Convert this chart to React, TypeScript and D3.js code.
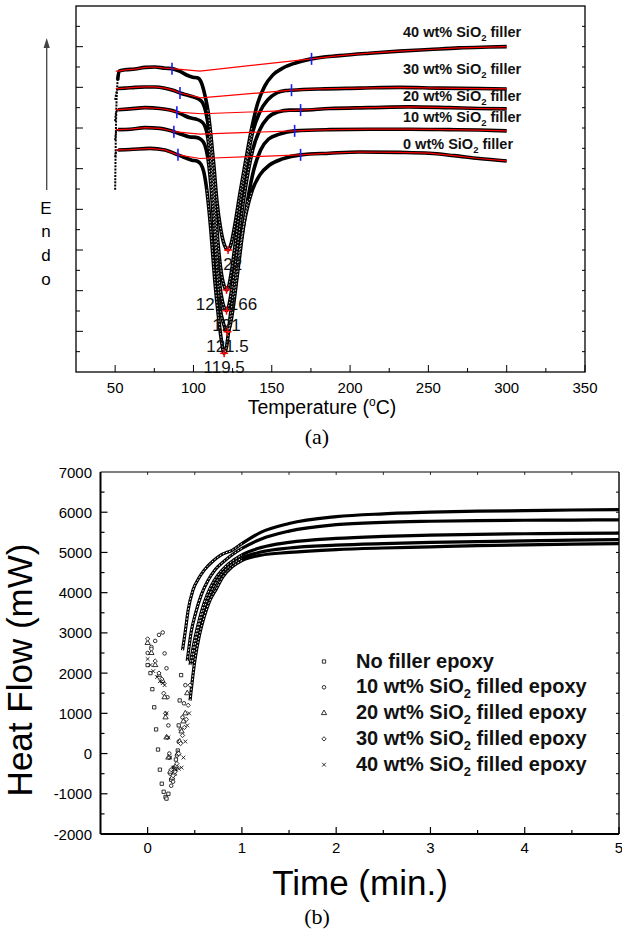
import React from "react";
import * as d3 from "d3";

const W = 622, H = 930;
const SANS = "'Liberation Sans', Arial, Helvetica, sans-serif";
const SERIF = "'Liberation Serif', 'Times New Roman', serif";

// ---------- (a) DSC scans: temperature (°C) vs heat flow (a.u., endo up)
const dscFiller = ["40", "30", "20", "10", "0"];

const dsc40 = [
  [50.0, 4.48], [50.6, 6.2], [51.6, 7.18], [52.5, 7.4], [56.3, 7.43], [62.7, 7.45], [69.1, 7.49],
  [75.4, 7.5], [81.8, 7.47], [86.3, 7.46], [91.4, 7.39], [96.4, 7.29], [99.6, 7.25], [102.8, 7.23],
  [105.4, 7.08], [107.3, 6.81], [109.2, 6.44], [111.1, 5.83], [113.0, 5.09], [114.9, 4.23],
  [117.5, 3.49], [120.0, 3.1], [122.1, 3.0], [123.8, 3.12], [126.4, 3.61], [129.5, 4.35],
  [133.4, 5.21], [137.2, 6.0], [141.0, 6.61], [145.5, 7.03], [150.6, 7.3], [156.9, 7.47],
  [165.2, 7.6], [175.4, 7.7], [193.2, 7.78], [212.3, 7.84], [231.4, 7.89], [250.5, 7.93],
  [269.6, 7.97], [288.7, 7.99], [300, 8.0],
];
const dsc30 = [
  [50.0, 6.69], [50.9, 6.88], [51.9, 6.97], [56.3, 6.98], [62.7, 7.0], [69.1, 7.01], [75.4, 7.01],
  [81.8, 6.98], [86.9, 6.93], [91.4, 6.86], [95.8, 6.81], [100.3, 6.76], [103.4, 6.71], [106.0, 6.61],
  [107.9, 6.39], [109.8, 5.95], [111.7, 5.21], [113.6, 4.23], [115.5, 3.25], [117.5, 2.51],
  [119.4, 2.14], [121.1, 2.02], [122.5, 2.11], [124.4, 2.51], [127.0, 3.25], [130.2, 4.23],
  [134.0, 5.16], [137.8, 5.9], [142.3, 6.39], [147.4, 6.69], [153.1, 6.86], [158.8, 6.92],
  [162.6, 6.93], [180.5, 6.96], [206.0, 6.98], [231.4, 7.0], [256.9, 6.98], [282.3, 6.97], [300, 6.96],
];
const dsc20 = [
  [50.0, 6.17], [50.6, 6.39], [51.9, 6.45], [59.5, 6.47], [69.1, 6.5], [78.6, 6.48], [85.0, 6.44],
  [89.4, 6.39], [93.9, 6.31], [97.7, 6.25], [101.5, 6.22], [104.7, 6.17], [107.3, 6.05], [109.2, 5.75],
  [111.1, 5.09], [113.0, 4.11], [114.9, 3.0], [116.8, 2.14], [118.7, 1.7], [121.1, 1.51],
  [122.5, 1.62], [124.4, 2.02], [127.0, 2.75], [130.2, 3.74], [134.0, 4.72], [137.8, 5.46],
  [142.3, 5.95], [147.4, 6.25], [153.7, 6.39], [161.4, 6.44], [168.4, 6.44], [186.8, 6.48],
  [212.3, 6.5], [237.8, 6.52], [263.2, 6.5], [282.3, 6.48], [300, 6.47],
];
const dsc10 = [
  [50.0, 5.7], [50.6, 5.9], [51.9, 5.96], [59.5, 5.97], [69.1, 6.01], [78.6, 5.99], [83.7, 5.95],
  [87.5, 5.91], [92.6, 5.84], [97.7, 5.78], [101.5, 5.77], [104.7, 5.72], [107.3, 5.58], [109.2, 5.26],
  [111.1, 4.6], [113.0, 3.61], [114.9, 2.51], [116.8, 1.65], [119.4, 1.16], [121.7, 0.99],
  [123.2, 1.11], [125.1, 1.52], [127.6, 2.26], [130.8, 3.25], [134.6, 4.23], [138.5, 4.97],
  [142.9, 5.46], [148.0, 5.73], [155.0, 5.85], [164.6, 5.93], [186.8, 5.96], [212.3, 5.97],
  [237.8, 5.97], [263.2, 5.96], [282.3, 5.95], [300, 5.93],
];
const dsc0 = [
  [50.0, 5.29], [50.6, 5.41], [51.9, 5.46], [59.5, 5.47], [72.3, 5.5], [81.8, 5.46], [90.1, 5.34],
  [95.2, 5.26], [99.0, 5.21], [102.2, 5.19], [104.7, 5.11], [106.6, 4.92], [108.5, 4.48],
  [111.1, 3.49], [113.6, 2.26], [116.2, 1.28], [118.1, 0.71], [119.6, 0.46], [121.3, 0.66],
  [123.2, 1.28], [125.7, 2.02], [128.9, 2.88], [132.7, 3.74], [137.2, 4.43], [142.3, 4.84],
  [148.6, 5.09], [156.9, 5.24], [168.4, 5.34], [186.8, 5.38], [206.0, 5.41], [231.4, 5.4],
  [250.5, 5.38], [266.4, 5.32], [282.3, 5.25], [300, 5.19],
];
const dscCurves = [dsc40, dsc30, dsc20, dsc10, dsc0];

// integration limits and baseline corner
const dscTickLeft = [86.3, 91.4, 89.4, 87.5, 90.1];
const dscTickRight = [175.4, 162.6, 168.4, 164.6, 168.4];
const dscBaseCorner = [[104.1, 7.4], [104.7, 6.74], [105.4, 6.35], [104.1, 5.85], [104.1, 5.25]];
const dscPeakT = [122.1, 121.1, 121.1, 121.7, 119.6];
const dscPeakLabel = ["122", "121.166", "121", "121.5", "119.5"];

// ---------- (b) heat flow vs time
const flowNames = ["No filler epoxy", "10 wt% SiO", "20 wt% SiO", "30 wt% SiO", "40 wt% SiO"];

const flowEarly0 = [
  [0.0, 2200], [0.03, 2000], [0.05, 1600], [0.07, 1150], [0.09, 600], [0.11, 100], [0.13, -400],
  [0.15, -750], [0.17, -950], [0.19, -1080], [0.2, -1120], [0.22, -1000], [0.25, -650],
  [0.28, -350], [0.3, -150], [0.32, 75], [0.33, 700], [0.34, 1320], [0.355, 1950],
];
const flowEarly1 = [
  [0.0, 2500], [0.04, 2650], [0.08, 2800], [0.12, 2950], [0.16, 3010], [0.18, 2490], [0.2, 2120],
  [0.21, 1400], [0.22, 700], [0.23, 0], [0.24, -500], [0.25, -800], [0.27, -700], [0.29, -400],
  [0.31, -50], [0.33, 300], [0.35, 600], [0.37, 900], [0.385, 1250], [0.4, 1700],
];
const flowEarly2 = [
  [0.0, 2750], [0.04, 2500], [0.08, 2200], [0.12, 1950], [0.16, 1800], [0.18, 1400], [0.19, 900],
  [0.2, 400], [0.22, -100], [0.24, -450], [0.26, -600], [0.28, -500], [0.3, -300], [0.32, 0],
  [0.34, 300], [0.36, 550], [0.38, 800], [0.4, 1000], [0.42, 1500],
];
const flowEarly3 = [
  [0.0, 2850], [0.04, 2600], [0.08, 2300], [0.12, 2000], [0.15, 1850], [0.17, 1500], [0.19, 1000],
  [0.21, 400], [0.23, -100], [0.25, -400], [0.27, -550], [0.29, -450], [0.31, -250], [0.33, 0],
  [0.35, 250], [0.37, 450], [0.39, 650], [0.41, 850], [0.43, 1200], [0.45, 1700],
];
const flowEarly4 = [
  [0.0, 2350], [0.03, 2200], [0.06, 2050], [0.1, 1900], [0.13, 1800], [0.16, 1750], [0.18, 1700],
  [0.2, 1000], [0.22, 400], [0.24, -100], [0.27, -350], [0.3, -400], [0.33, -380], [0.36, -350],
  [0.38, -100], [0.4, 300], [0.42, 700], [0.44, 1000],
];

const flowTrace0 = [
  [0.37, 2570], [0.4, 3050], [0.43, 3570], [0.48, 4060], [0.54, 4350], [0.6, 4560], [0.7, 4800],
  [0.78, 4940], [0.9, 5060], [1.0, 5220], [1.2, 5500], [1.5, 5720], [2.0, 5890], [2.5, 5960],
  [3.0, 6000], [3.5, 6025], [4.0, 6040], [4.5, 6055], [5.0, 6065],
];
const flowTrace1 = [
  [0.42, 2300], [0.46, 3000], [0.51, 3500], [0.57, 3950], [0.64, 4300], [0.72, 4580], [0.82, 4800],
  [0.9, 4950], [1.0, 5100], [1.2, 5330], [1.5, 5530], [2.0, 5690], [2.5, 5750], [3.0, 5775],
  [3.5, 5790], [4.0, 5800], [4.5, 5805], [5.0, 5810],
];
const flowTrace2 = [
  [0.45, 2200], [0.5, 2850], [0.55, 3350], [0.6, 3750], [0.67, 4150], [0.75, 4450], [0.84, 4680],
  [0.92, 4820], [1.0, 4940], [1.2, 5120], [1.5, 5250], [2.0, 5350], [2.5, 5400], [3.0, 5430],
  [3.5, 5450], [4.0, 5465], [4.5, 5475], [5.0, 5480],
];
const flowTrace3 = [
  [0.47, 2200], [0.52, 2900], [0.57, 3400], [0.63, 3800], [0.7, 4150], [0.78, 4450], [0.88, 4680],
  [1.0, 4860], [1.2, 5010], [1.5, 5110], [2.0, 5180], [2.5, 5220], [3.0, 5250], [3.5, 5270],
  [4.0, 5290], [4.5, 5305], [5.0, 5320],
];
const flowTrace4 = [
  [0.45, 1320], [0.5, 2300], [0.55, 2950], [0.6, 3400], [0.66, 3800], [0.73, 4100], [0.8, 4400],
  [0.9, 4650], [1.0, 4800], [1.2, 4930], [1.5, 5000], [2.0, 5070], [2.5, 5110], [3.0, 5140],
  [3.5, 5170], [4.0, 5190], [4.5, 5205], [5.0, 5220],
];
const flowEarly = [flowEarly0, flowEarly1, flowEarly2, flowEarly3, flowEarly4];
const flowTrace = [flowTrace0, flowTrace1, flowTrace2, flowTrace3, flowTrace4];

const symTypes = [
  d3.symbolSquare,
  d3.symbolCircle,
  d3.symbolTriangle,
  (d3 as any).symbolDiamond2 || d3.symbolDiamond,
  (d3 as any).symbolTimes || d3.symbolCross,
];
const symSizes = [11, 10, 12, 12, 11];

export default function App() {
  // panel (a)
  const ax = d3.scaleLinear().domain([25, 350]).range([76, 585]);
  const ay = d3.scaleLinear().domain([0, 9]).range([372, 6]);
  // panel (b)
  const bx = d3.scaleLinear().domain([-0.5, 5]).range([100.5, 619]);
  const by = d3.scaleLinear().domain([-2000, 7000]).range([834, 472]);

  const dscLine = d3.line<number[]>().x(d => ax(d[0])).y(d => ay(d[1])).curve(d3.curveMonotoneX);
  const fitLine = d3.line<number[]>().x(d => ax(d[0])).y(d => ay(d[1]));
  const flowLine = d3.line<number[]>().x(d => bx(d[0])).y(d => by(d[1])).curve(d3.curveMonotoneX);

  const valueAt = (c: number[][], t: number) => {
    const p = c.find(q => Math.abs(q[0] - t) < 0.01);
    return p ? p[1] : c[0][1];
  };

  const fitPoints = (i: number) => {
    const c = dscCurves[i];
    const left = c.filter(p => p[0] >= 51.8 && p[0] <= dscTickLeft[i]);
    const right = c.filter(p => p[0] >= dscTickRight[i]);
    return [[50.4, left[0][1]], ...left, dscBaseCorner[i], ...right];
  };

  const aTicks = d3.range(0.5, 9, 0.5);
  const aXTicks = d3.range(50, 351, 25);
  const bYTicks = d3.range(-1500, 7000, 500);
  const bXTicks = d3.range(0, 5.01, 0.5);

  const rightLabelY = [36.7, 74, 100.7, 121.7, 149];

  return (
    <svg width={W} height={H} style={{ position: "absolute", left: 0, top: 0, background: "#fff" }}
      fontFamily={SANS}>
      {/* ================= panel (a) ================= */}
      <g>
        {aTicks.map(v => (
          <g key={"ay" + v}>
            <line x1={76} x2={76 + (v % 1 === 0 ? 7 : 4)} y1={ay(v)} y2={ay(v)} stroke="#000" strokeWidth={1} />
            <line x1={585} x2={585 - 3} y1={ay(v)} y2={ay(v)} stroke="#000" strokeWidth={1} />
          </g>
        ))}
        {aXTicks.map(t => (
          <g key={"ax" + t}>
            <line x1={ax(t)} x2={ax(t)} y1={372} y2={372 - (t % 50 === 0 ? 7 : 4)} stroke="#000" strokeWidth={1} />
            {t % 50 === 0 && (
              <text x={ax(t)} y={393} fontSize={15} textAnchor="middle">{t}</text>
            )}
          </g>
        ))}
        <rect x={76} y={6} width={509} height={366} fill="none" stroke="#000" strokeWidth={1.3} />

        {/* black DSC traces: sparse start, dense body, open-marker texture in the dip */}
        {dscCurves.map((c, i) => (
          <g key={"dc" + i}>
            <path d={dscLine(c.slice(0, 3)) || ""} fill="none" stroke="#000" strokeWidth={2}
              strokeDasharray="2 1.2" />
            <path d={dscLine(c.slice(2)) || ""} fill="none" stroke="#000" strokeWidth={3.6}
              strokeLinejoin="round" />
          </g>
        ))}
        {dscCurves.map((c, i) => (
          <path key={"dh" + i} d={dscLine(c.filter(p => p[0] >= 108 && p[0] <= 138)) || ""}
            fill="none" stroke="#fff" strokeWidth={0.9} strokeDasharray="1.4 1.8" opacity={0.9} />
        ))}
        {/* red baseline / fit */}
        {dscCurves.map((c, i) => (
          <path key={"fit" + i} d={fitLine(fitPoints(i)) || ""} fill="none" stroke="#ff0000" strokeWidth={1.2} />
        ))}
        {/* blue integration limits */}
        {dscCurves.map((c, i) => (
          <g key={"bl" + i} stroke="#1a1aff" strokeWidth={1.6}>
            <line x1={ax(dscTickLeft[i])} x2={ax(dscTickLeft[i])}
              y1={ay(valueAt(c, dscTickLeft[i])) - 6} y2={ay(valueAt(c, dscTickLeft[i])) + 6} />
            <line x1={ax(dscTickRight[i])} x2={ax(dscTickRight[i])}
              y1={ay(valueAt(c, dscTickRight[i])) - 6} y2={ay(valueAt(c, dscTickRight[i])) + 6} />
          </g>
        ))}
        {/* peak markers and labels */}
        {dscCurves.map((c, i) => {
          const px = ax(dscPeakT[i]);
          const py = ay(valueAt(c, dscPeakT[i]));
          return (
            <g key={"pk" + i}>
              <line x1={px - 4} x2={px + 4} y1={py} y2={py} stroke="#ff0000" strokeWidth={1.5} />
              <line x1={px} x2={px} y1={py - 4} y2={py + 4} stroke="#ff0000" strokeWidth={1.5} />
              <text x={px} y={py + 20} fontSize={17} textAnchor="middle" fill="#111">{dscPeakLabel[i]}</text>
            </g>
          );
        })}
        {/* series labels */}
        {dscFiller.map((f, i) => (
          <text key={"lab" + f} x={403} y={rightLabelY[i]} fontSize={14.5} fontWeight="bold" fill="#111">
            {f} wt% SiO<tspan dy={4} fontSize={9.5}>2</tspan><tspan dy={-4}> filler</tspan>
          </text>
        ))}

        {/* endo arrow */}
        <line x1={46.7} x2={46.7} y1={190} y2={46} stroke="#444" strokeWidth={1.3} />
        <path d="M46.7,38 L43.6,48 L49.8,48 Z" fill="#444" />
        {["E", "n", "d", "o"].map((ch, i) => (
          <text key={"endo" + i} x={46} y={[214, 237, 261, 285][i]} fontSize={17} textAnchor="middle">{ch}</text>
        ))}

        <text x={322} y={414} fontSize={19.5} textAnchor="middle">
          Temperature (<tspan dy={-8} fontSize={12}>o</tspan><tspan dy={8}>C)</tspan>
        </text>
        <text x={317} y={444} fontSize={22} textAnchor="middle" fontFamily={SERIF}>(a)</text>
      </g>

      {/* ================= panel (b) ================= */}
      <g>
        {bYTicks.map(v => (
          <g key={"by" + v}>
            <line x1={100.5} x2={100.5 + (v % 1000 === 0 ? 7 : 4)} y1={by(v)} y2={by(v)} stroke="#000" strokeWidth={1.2} />
            <line x1={619} x2={619 - 3} y1={by(v)} y2={by(v)} stroke="#000" strokeWidth={1} />
          </g>
        ))}
        {d3.range(-2000, 7001, 1000).map(v => (
          <text key={"byl" + v} x={92} y={by(v) + 5.5} fontSize={15} textAnchor="end">{v}</text>
        ))}
        {bXTicks.map(t => (
          <g key={"bx" + t}>
            <line x1={bx(t)} x2={bx(t)} y1={834} y2={834 - (Math.abs(t % 1) < 1e-6 ? 7 : 4)} stroke="#000" strokeWidth={1.2} />
            {t < 5 && <line x1={bx(t)} x2={bx(t)} y1={472} y2={475} stroke="#000" strokeWidth={0.8} />}
            {Math.abs(t % 1) < 1e-6 && (
              <text x={bx(t)} y={853} fontSize={15} textAnchor="middle">{t}</text>
            )}
          </g>
        ))}
        <line x1={100.5} x2={619} y1={472} y2={472} stroke="#000" strokeWidth={1.2} />
        <line x1={619} x2={619} y1={472} y2={834} stroke="#000" strokeWidth={1.4} />
        <line x1={100.5} x2={100.5} y1={472} y2={834} stroke="#000" strokeWidth={2} />
        <line x1={100.5} x2={619} y1={834} y2={834} stroke="#000" strokeWidth={2} />

        {/* dense traces, with open-marker texture where the rise is steep */}
        {flowTrace.map((tr, i) => (
          <path key={"ft" + i} d={flowLine(tr) || ""} fill="none" stroke="#000" strokeWidth={3.2} />
        ))}
        {flowTrace.map((tr, i) => (
          <path key={"fh" + i} d={flowLine(tr.filter(p => p[0] <= 1.0)) || ""} fill="none"
            stroke="#fff" strokeWidth={1} strokeDasharray="1.6 1.8" />
        ))}
        {/* sparse open markers */}
        {flowEarly.map((pts, i) => {
          const sym = d3.symbol().type(symTypes[i]).size(symSizes[i]);
          return (
            <g key={"fm" + i}>
              {pts.map((p, j) => (
                <path key={j} d={sym() || ""} transform={`translate(${bx(p[0])},${by(p[1])})`}
                  fill="#fff" stroke="#000" strokeWidth={0.8} />
              ))}
            </g>
          );
        })}

        {/* legend */}
        {flowNames.map((n, i) => {
          const sym = d3.symbol().type(symTypes[i]).size(symSizes[i]);
          const yb = 667.5 + i * 25.8;
          return (
            <g key={"lg" + i}>
              <path d={sym() || ""} transform={`translate(324,${yb - 6})`} fill="#fff" stroke="#000" strokeWidth={0.8} />
              <text x={356} y={yb} fontSize={20} fontWeight="bold" fill="#111">
                {i === 0 ? n : (
                  <>
                    {n}<tspan dy={5} fontSize={13}>2</tspan><tspan dy={-5}> filled epoxy</tspan>
                  </>
                )}
              </text>
            </g>
          );
        })}

        <text transform="translate(32,670) rotate(-90)" fontSize={35} textAnchor="middle">Heat Flow (mW)</text>
        <text x={360} y={895} fontSize={35} textAnchor="middle">Time (min.)</text>
        <text x={317} y={924} fontSize={22} textAnchor="middle" fontFamily={SERIF}>(b)</text>
      </g>
    </svg>
  );
}
